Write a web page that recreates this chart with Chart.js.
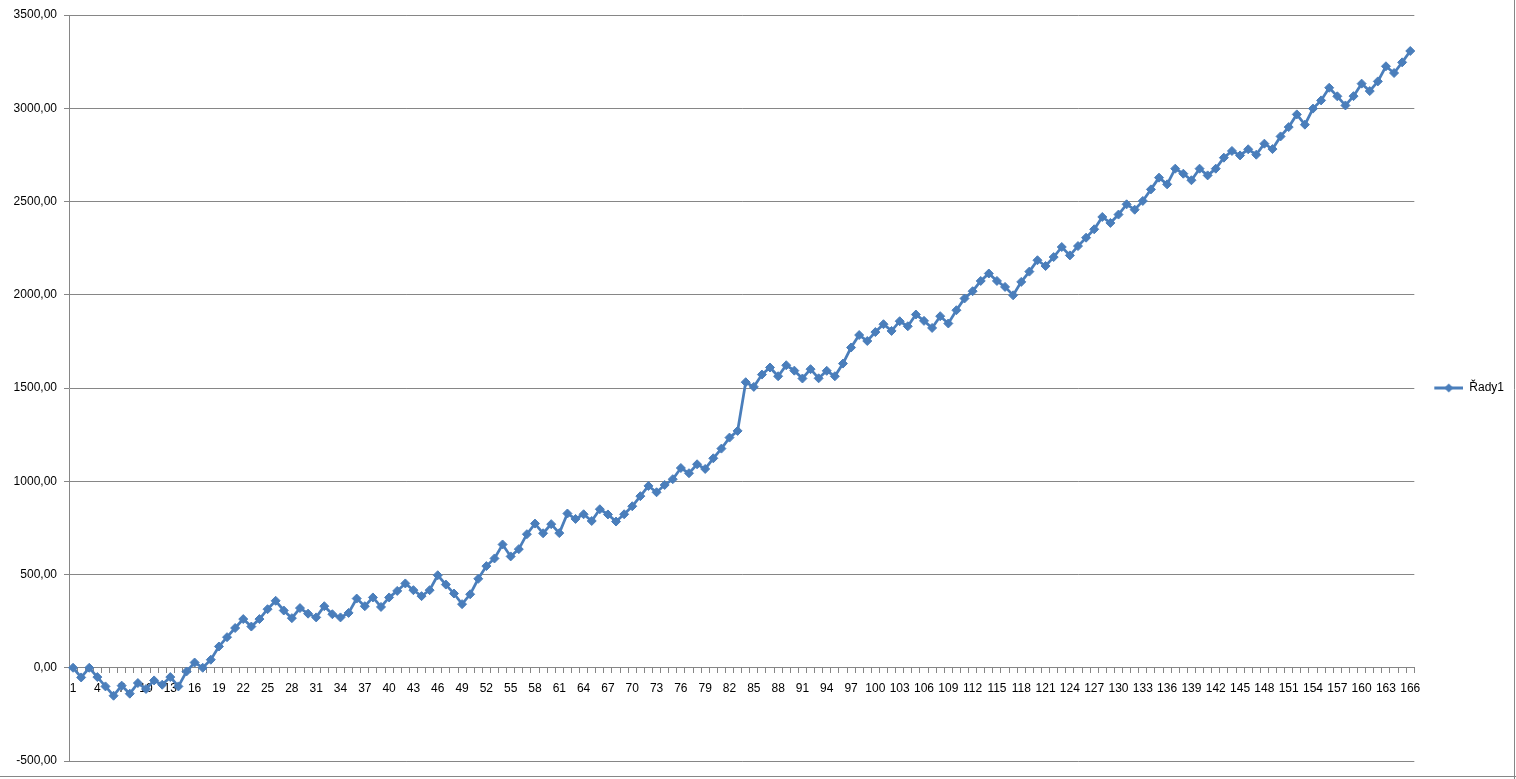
<!DOCTYPE html>
<html>
<head>
<meta charset="utf-8">
<title>Řady1</title>
<script src="https://cdn.jsdelivr.net/npm/chart.js@4/dist/chart.umd.min.js"></script>
<style>
    html, body { margin: 0; padding: 0; background: #ffffff; }
    #wrap { width: 1516px; height: 779px; position: relative; }
</style>
</head>
<body>
<div id="wrap"><canvas id="chart" width="1516" height="779"></canvas></div>
<script>
// values, one per category (1..166)
const seriesName = 'Řady1';
const seriesValues = [
    0, -52, 0, -50, -100, -150, -96, -139, -82, -114,
    -68, -91, -50, -100, -20, 28, 0, 43, 114, 164,
    213, 261, 221, 261, 314, 359, 307, 266, 320, 290,
    270, 330, 287, 270, 294, 371, 330, 377, 326, 377,
    412, 452, 416, 384, 416, 496, 446, 398, 341, 394,
    477, 545, 586, 661, 597, 636, 716, 773, 721, 770,
    722, 827, 798, 823, 787, 850, 822, 784, 823, 866,
    920, 975, 941, 980, 1011, 1071, 1043, 1091, 1066, 1123,
    1175, 1234, 1270, 1531, 1506, 1572, 1610, 1563, 1622, 1593,
    1551, 1601, 1552, 1592, 1563, 1631, 1717, 1784, 1752, 1800,
    1842, 1806, 1858, 1831, 1894, 1860, 1822, 1885, 1846, 1917,
    1980, 2019, 2074, 2114, 2074, 2042, 1997, 2069, 2124, 2185,
    2154, 2202, 2256, 2211, 2261, 2306, 2351, 2417, 2385, 2430,
    2485, 2456, 2503, 2565, 2628, 2592, 2676, 2649, 2614, 2676,
    2640, 2676, 2735, 2771, 2747, 2780, 2751, 2810, 2781, 2849,
    2899, 2967, 2912, 2998, 3042, 3110, 3064, 3015, 3065, 3132,
    3092, 3144, 3225, 3189, 3246, 3307
];
const categories = seriesValues.map((v, i) => String(i + 1));
const yMin = -500;
const yMax = 3500;
const yStep = 500;
const labelEvery = 3; // only every third category gets a label

const blue = '#4A7EBB';
const gray = '#868686';

Chart.defaults.font.family = "'Liberation Sans', Arial, sans-serif";
Chart.defaults.font.size = 12;
Chart.defaults.color = '#000000';

// legend symbol: short line with a diamond on it (right part of the canvas)
function legendSymbol() {
    const c = document.createElement('canvas');
    c.width = 39;
    c.height = 10;
    const g = c.getContext('2d');
    g.strokeStyle = blue;
    g.lineWidth = 3;
    g.beginPath();
    g.moveTo(10, 5);
    g.lineTo(39, 5);
    g.stroke();
    g.fillStyle = blue;
    g.beginPath();
    g.moveTo(24.5, 0.5);
    g.lineTo(29, 5);
    g.lineTo(24.5, 9.5);
    g.lineTo(20, 5);
    g.closePath();
    g.fill();
    return c;
}

// thin border on the right / bottom like the sheet frame
const framePlugin = {
    id: 'frame',
    afterDraw(chart) {
        const ctx = chart.ctx;
        ctx.save();
        ctx.strokeStyle = gray;
        ctx.lineWidth = 1;
        ctx.beginPath();
        ctx.moveTo(chart.width - 1.5, 0);
        ctx.lineTo(chart.width - 1.5, chart.height);
        ctx.moveTo(0, chart.height - 2.5);
        ctx.lineTo(chart.width, chart.height - 2.5);
        ctx.stroke();
        ctx.restore();
    }
};

new Chart(document.getElementById('chart'), {
    type: 'line',
    data: {
        labels: categories,
        datasets: [{
            label: seriesName,
            data: seriesValues,
            borderColor: blue,
            backgroundColor: blue,
            borderWidth: 2.75,
            pointStyle: 'rectRot',
            pointRadius: 4.5,
            pointBorderWidth: 1,
            pointBackgroundColor: blue,
            pointBorderColor: blue,
            tension: 0,
            fill: false
        }]
    },
    options: {
        responsive: false,
        animation: false,
        layout: {
            padding: { left: 0, right: 2, top: 15, bottom: 18 }
        },
        plugins: {
            tooltip: { enabled: false },
            legend: {
                position: 'right',
                labels: {
                    usePointStyle: true,
                    pointStyle: legendSymbol(),
                    pointStyleWidth: 39,
                    boxHeight: 10,
                    padding: 10,
                    color: '#000000'
                }
            }
        },
        scales: {
            x: {
                type: 'category',
                position: { y: 0 },
                offset: true,
                border: { color: gray, width: 1 },
                grid: {
                    offset: true,
                    drawOnChartArea: false,
                    drawTicks: true,
                    tickLength: 5,
                    color: gray
                },
                ticks: {
                    autoSkip: false,
                    maxRotation: 0,
                    minRotation: 0,
                    padding: 9,
                    callback: function(value, index) {
                        return index % labelEvery === 0 ? categories[index] : '';
                    }
                }
            },
            y: {
                min: yMin,
                max: yMax,
                afterFit: function(scale) { scale.width = 69; },
                border: { color: gray, width: 1 },
                grid: {
                    color: gray,
                    tickLength: 5
                },
                ticks: {
                    stepSize: yStep,
                    padding: 7,
                    callback: function(value) {
                        return value.toFixed(2).replace('.', ',');
                    }
                }
            }
        }
    },
    plugins: [framePlugin]
});
</script>
</body>
</html>
